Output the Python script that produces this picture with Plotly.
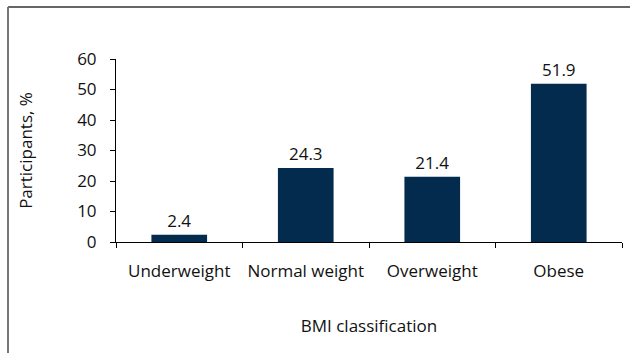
import plotly.graph_objects as go

# BMI distribution of participants
categories = ["Underweight", "Normal weight", "Overweight", "Obese"]
percent = [2.4, 24.3, 21.4, 51.9]
y_ticks = [0, 10, 20, 30, 40, 50, 60]

BAR_COLOR = "#022b4e"
FONT = "Open Sans"
FS = 17

fig = go.Figure(
    go.Bar(
        x=categories,
        y=percent,
        marker=dict(color=BAR_COLOR, line=dict(width=0)),
        width=0.44,
        text=[f"{v:.1f}" for v in percent],
        textposition="outside",
        textfont=dict(family=FONT, size=FS, color="#111111"),
        cliponaxis=False,
    )
)

W, H = 630, 353
L, R, T, B = 116, 8, 59, 111
pw, ph = W - L - R, H - T - B

fig.update_layout(
    width=W,
    height=H,
    margin=dict(l=L, r=R, t=T, b=B, pad=0),
    paper_bgcolor="white",
    plot_bgcolor="white",
    showlegend=False,
    font=dict(family=FONT, size=FS, color="#111111"),
    bargap=0.56,
    xaxis=dict(
        range=[-0.5, 3.5],
        showline=True,
        linecolor="black",
        linewidth=1,
        ticks="outside",
        tickson="boundaries",
        ticklen=5,
        tickcolor="black",
        ticklabelstandoff=14,
        tickfont=dict(family=FONT, size=FS),
        showgrid=False,
        zeroline=False,
        title=dict(text="BMI classification", font=dict(family=FONT, size=FS), standoff=38),
    ),
    yaxis=dict(
        range=[0, 60],
        tickvals=y_ticks,
        showline=True,
        linecolor="black",
        linewidth=1,
        ticks="outside",
        ticklen=5,
        tickcolor="black",
        ticklabelstandoff=10,
        tickfont=dict(family=FONT, size=FS),
        showgrid=False,
        zeroline=False,
        title=dict(text="Participants, %", font=dict(family=FONT, size=FS), standoff=40),
    ),
)

# frame lines: top edge and left edge
fig.add_shape(
    type="line", xref="paper", yref="paper",
    x0=(8 - L) / pw, x1=(W - L) / pw,
    y0=(H - B - 7) / ph, y1=(H - B - 7) / ph,
    line=dict(color="#333333", width=1.5),
)
fig.add_shape(
    type="line", xref="paper", yref="paper",
    x0=(8 - L) / pw, x1=(8 - L) / pw,
    y0=(H - B - 7) / ph, y1=-B / ph,
    line=dict(color="#777777", width=2),
)

fig.write_html("out.html")
